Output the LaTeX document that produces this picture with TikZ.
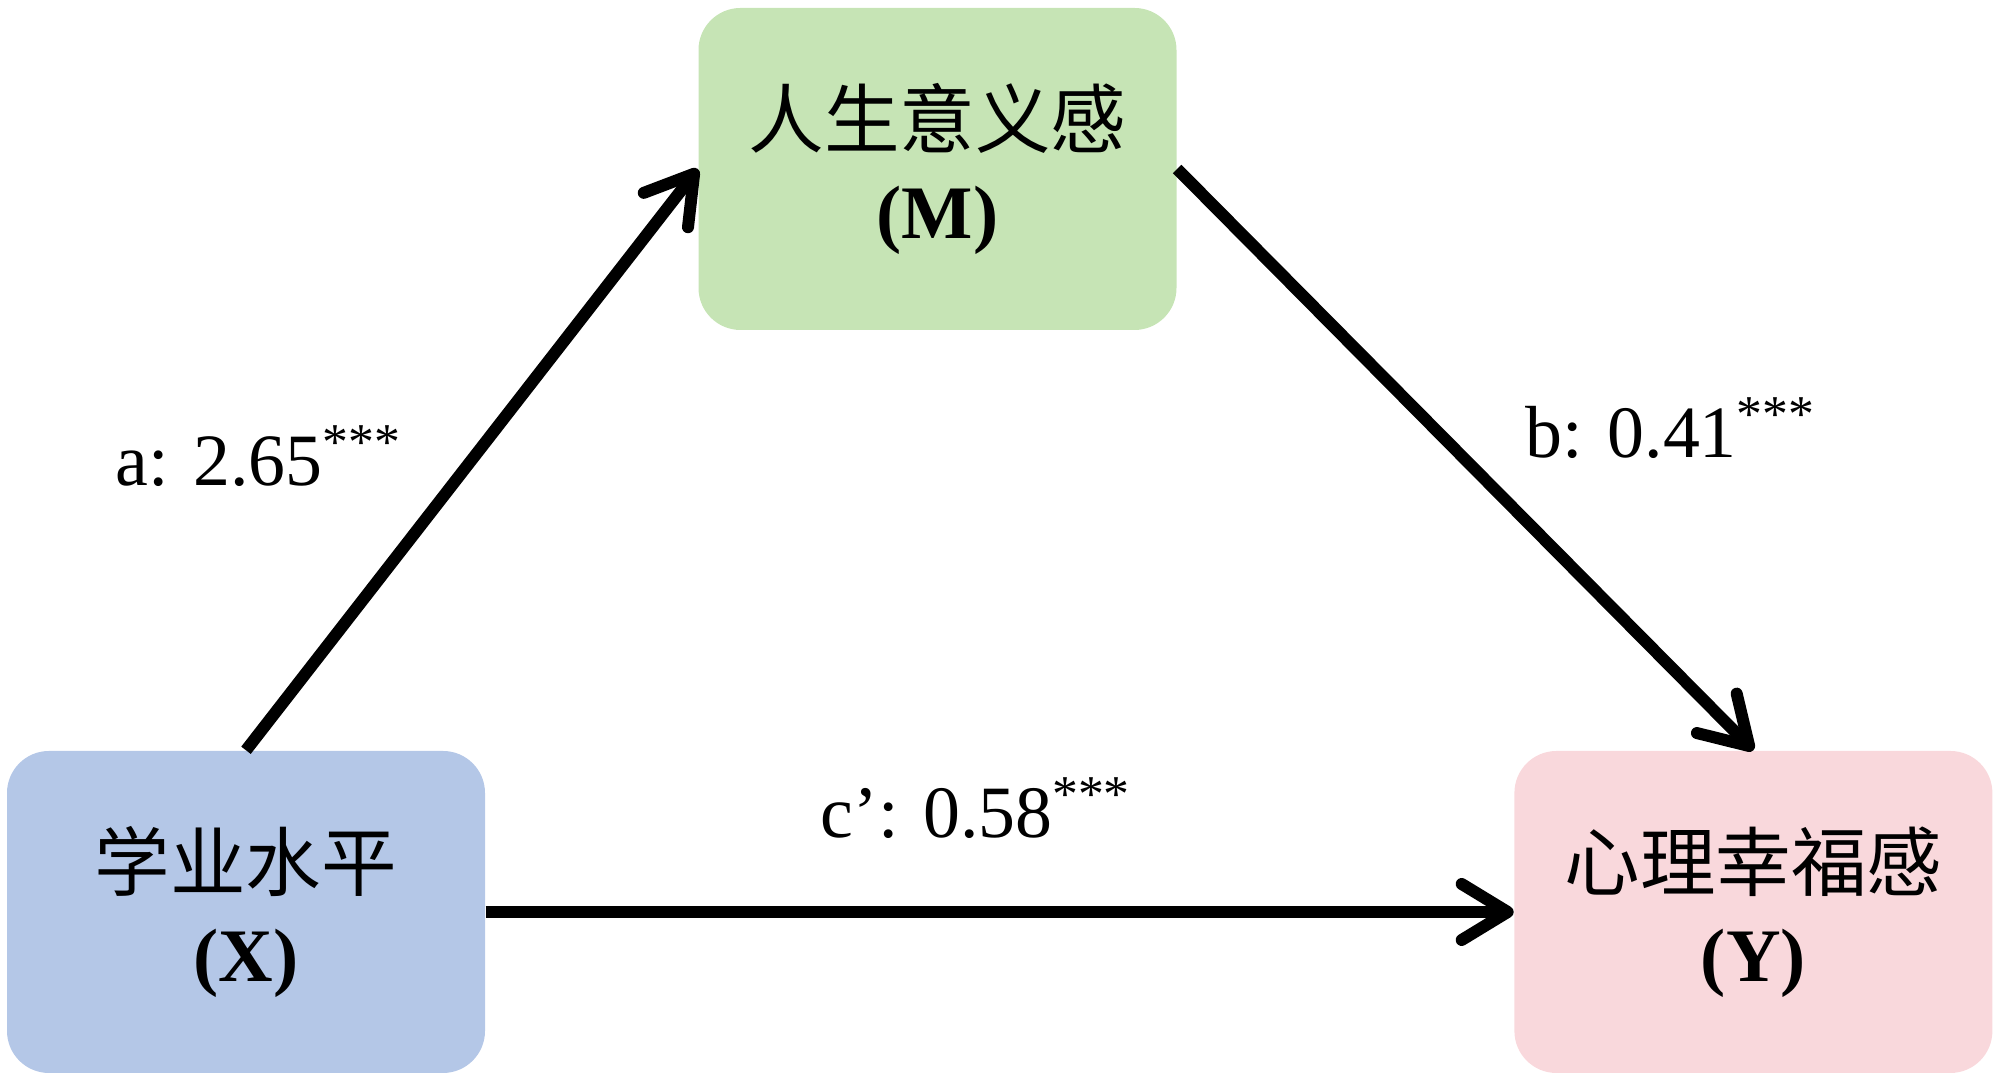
\documentclass[tikz,border=0pt]{standalone}
\usepackage{fontspec}
\setmainfont{Liberation Serif}
\newfontfamily\cjk{Noto Sans CJK SC}
\usepackage{xcolor}
\definecolor{verde}{HTML}{C6E4B5}
\definecolor{azul}{HTML}{B4C7E7}
\definecolor{rosa}{HTML}{F9D8DC}
\usepackage{tikz}
\usetikzlibrary{positioning,arrows.meta}

\begin{document}
\begin{tikzpicture}[
  font=\fontsize{21.5pt}{26pt}\selectfont,
  caja/.style={rectangle, rounded corners=4.2mm, draw=none, minimum width=4.78cm, minimum height=3.22cm, inner sep=0pt, align=center},
  coef/.style={anchor=base west, inner sep=0pt, font=\fontsize{21pt}{25pt}\selectfont},
  flecha/.style={-{Straight Barb[length=4.6mm, width=5.6mm, round]}, draw=black, line width=1.2mm}
]
\useasboundingbox (0,0) rectangle (19.99,10.83);
\node[caja, fill=azul] (X) at (2.46,1.71) {{\cjk 学业水平}\\\textbf{(X)}};
\node[caja, fill=rosa, right=10.28cm of X] (Y) {{\cjk 心理幸福感}\\\textbf{(Y)}};
\node[caja, fill=verde] (M) at (9.375,9.14) {{\cjk 人生意义感}\\\textbf{(M)}};
\node[coef] (la) at (1.15,5.97) {a: 2.65\textsuperscript{***}};
\node[coef] (lb) at (15.25,6.25) {b: 0.41\textsuperscript{***}};
\node[coef] (lc) at (8.20,2.45) {c’: 0.58\textsuperscript{***}};
\draw[flecha] (X.north) -- (M.west);
\draw[flecha] (M.east) -- (Y.north);
\draw[flecha] (X.east) -- (Y.west);
\end{tikzpicture}
\end{document}
